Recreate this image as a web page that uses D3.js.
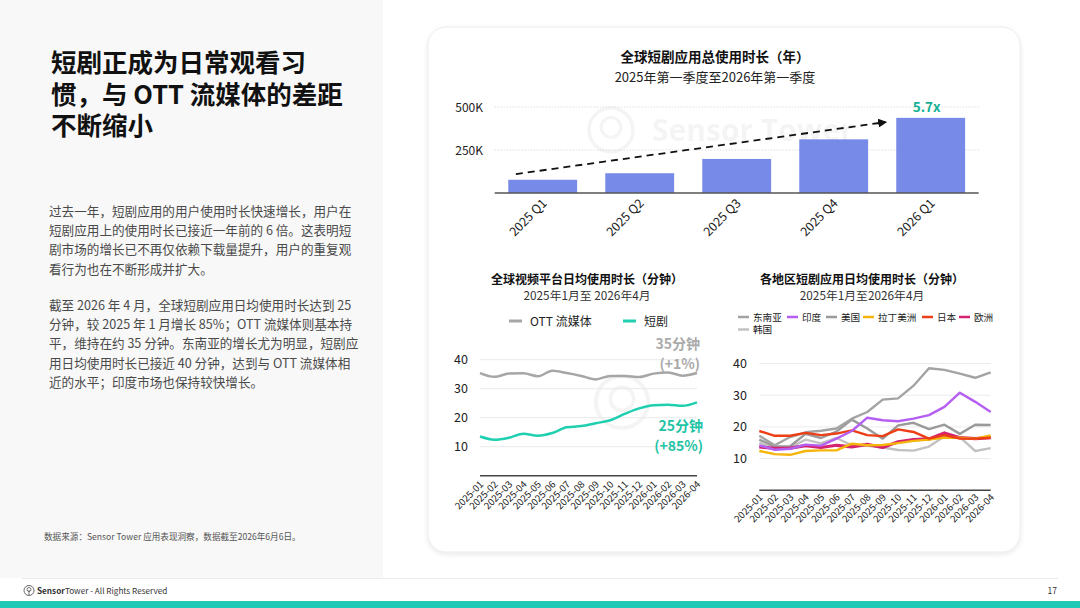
<!DOCTYPE html>
<html>
<head>
<meta charset="utf-8">
<script src="https://cdn.jsdelivr.net/npm/d3@7"></script>
<style>
  body { margin: 0; background: #fff; }
  svg { display: block; font-family: "Noto Sans CJK SC", "Noto Sans", sans-serif; }
</style>
</head>
<body>
<svg id="slide" width="1080" height="608"></svg>
<script>
// ---- data ----
var quarters = ["2025 Q1", "2025 Q2", "2025 Q3", "2025 Q4", "2026 Q1"];
var totalYears = [77000, 115000, 198000, 312000, 437000];
var totalTicks = [250000, 500000];

var months = ["2025-01", "2025-02", "2025-03", "2025-04", "2025-05", "2025-06", "2025-07", "2025-08",
  "2025-09", "2025-10", "2025-11", "2025-12", "2026-01", "2026-02", "2026-03", "2026-04"];
var ottMinutes = [35.4, 34.1, 35.2, 35.3, 34.3, 36.2, 35.4, 34.4, 33.2, 34.4, 34.4, 34.0, 35.2, 35.6, 34.5, 35.4];
var dramaMinutes = [13.5, 12.4, 13.1, 14.5, 13.8, 14.7, 16.7, 17.1, 18.1, 19.1, 21.3, 23.2, 24.3, 24.5, 24.1, 25.3];
var minuteTicks = [10, 20, 30, 40];

var regionNames = ["东南亚", "印度", "美国", "拉丁美洲", "日本", "欧洲", "韩国"];
var regionColors = ["#a3a3a3", "#b55ff2", "#9a9a9a", "#f5b50c", "#ec3f16", "#d6236f", "#c2c2c2"];
var seaMinutes = [17.2, 14.2, 16.8, 18.3, 18.8, 19.5, 22.6, 24.7, 28.6, 29.0, 33.0, 38.5, 38.0, 36.8, 35.5, 37.2];
var indiaMinutes = [14.2, 12.8, 13.1, 14.4, 14.1, 16.3, 18.7, 22.9, 22.1, 21.8, 22.6, 23.7, 26.3, 30.8, 27.9, 24.7];
var usMinutes = [16.0, 13.8, 13.9, 17.8, 16.5, 18.5, 22.3, 19.5, 16.3, 20.5, 21.3, 19.3, 20.7, 17.8, 20.7, 20.6];
var latamMinutes = [12.4, 11.4, 11.2, 12.4, 12.6, 12.6, 14.7, 14.2, 14.3, 14.9, 15.6, 16.0, 16.6, 16.6, 16.3, 17.3];
var japanMinutes = [18.7, 17.2, 17.2, 18.1, 17.4, 17.9, 18.9, 17.4, 17.1, 19.2, 18.4, 16.3, 17.4, 16.3, 16.3, 16.6];
var europeMinutes = [13.7, 13.2, 13.3, 14.1, 13.5, 14.2, 13.7, 14.5, 13.5, 15.3, 16.0, 16.2, 18.1, 16.6, 16.3, 16.6];
var koreaMinutes = [15.0, 13.2, 13.5, 16.0, 14.8, 16.5, 14.2, 14.0, 13.5, 12.7, 12.5, 13.8, 17.0, 16.8, 12.4, 13.3];
var regionSeries = [seaMinutes, indiaMinutes, usMinutes, latamMinutes, japanMinutes, europeMinutes, koreaMinutes];
var drawOrder = [6, 2, 0, 5, 3, 4, 1];

var headline = ["短剧正成为日常观看习", "惯，与 OTT 流媒体的差距", "不断缩小"];
var para1 = ["过去一年，短剧应用的用户使用时长快速增长，用户在",
  "短剧应用上的使用时长已接近一年前的 6 倍。这表明短",
  "剧市场的增长已不再仅依赖下载量提升，用户的重复观",
  "看行为也在不断形成并扩大。"];
var para2 = ["截至 2026 年 4 月，全球短剧应用日均使用时长达到 25",
  "分钟，较 2025 年 1 月增长 85%；OTT 流媒体则基本持",
  "平，维持在约 35 分钟。东南亚的增长尤为明显，短剧应",
  "用日均使用时长已接近 40 分钟，达到与 OTT 流媒体相",
  "近的水平；印度市场也保持较快增长。"];

var svg = d3.select("#slide");
var defs = svg.append("defs");

// ---- page background ----
svg.append("rect").attr("x", 0).attr("y", 0).attr("width", 383).attr("height", 578).attr("fill", "#f8f8f8");
svg.append("line").attr("x1", 22).attr("x2", 1058).attr("y1", 578.5).attr("y2", 578.5)
  .attr("stroke", "#ececec").attr("stroke-width", 1);
svg.append("rect").attr("x", 0).attr("y", 601).attr("width", 1080).attr("height", 7).attr("fill", "#1ccab5");

// left text
var head = svg.append("text").attr("fill", "#111").attr("font-size", 25.5).attr("font-weight", 700);
head.selectAll("tspan").data(headline).enter().append("tspan")
  .attr("x", 51).attr("y", function(d, i) { return 72 + i * 31.5; }).text(function(d) { return d; });

function paragraph(lines, y0) {
  var t = svg.append("text").attr("fill", "#4a4a4a").attr("font-size", 12.6);
  t.selectAll("tspan").data(lines).enter().append("tspan")
    .attr("x", 49).attr("y", function(d, i) { return y0 + i * 19.2; }).text(function(d) { return d; });
}
paragraph(para1, 216);
paragraph(para2, 310);

svg.append("text").attr("x", 44).attr("y", 540).attr("font-size", 8.6).attr("fill", "#555")
  .text("数据来源：Sensor Tower 应用表现洞察，数据截至2026年6月6日。");

// footer logo
svg.append("circle").attr("cx", 29).attr("cy", 590.5).attr("r", 5).attr("fill", "none").attr("stroke", "#555").attr("stroke-width", 0.9);
svg.append("circle").attr("cx", 29).attr("cy", 589.5).attr("r", 2).attr("fill", "none").attr("stroke", "#555").attr("stroke-width", 0.8);
svg.append("line").attr("x1", 29).attr("x2", 29).attr("y1", 590).attr("y2", 595).attr("stroke", "#555").attr("stroke-width", 0.8);
var foot = svg.append("text").attr("x", 37).attr("y", 594).attr("font-size", 8.2).attr("fill", "#333");
foot.append("tspan").attr("font-weight", 700).text("Sensor");
foot.append("tspan").text("Tower - All Rights Reserved");
svg.append("text").attr("x", 1057).attr("y", 594).attr("text-anchor", "end").attr("font-size", 8.5)
  .attr("fill", "#333").text("17");

// ---- card ----
var shadow = defs.append("filter").attr("id", "shadow").attr("x", "-5%").attr("y", "-5%").attr("width", "110%").attr("height", "112%");
shadow.append("feDropShadow").attr("dx", 0).attr("dy", 2).attr("stdDeviation", 2.5).attr("flood-color", "#000").attr("flood-opacity", 0.09);
svg.append("rect").attr("x", 428).attr("y", 27).attr("width", 592).attr("height", 525).attr("rx", 18)
  .attr("fill", "#fff").attr("stroke", "#ececec").attr("filter", "url(#shadow)");

// watermark logos (faint)
function logoMark(cx, cy, r) {
  var g = svg.append("g").attr("opacity", 0.04).attr("fill", "none").attr("stroke", "#000");
  g.append("circle").attr("cx", cx).attr("cy", cy).attr("r", r).attr("stroke-width", r * 0.16);
  g.append("circle").attr("cx", cx).attr("cy", cy - r * 0.12).attr("r", r * 0.45).attr("stroke-width", r * 0.14);
  return g;
}
logoMark(611, 130, 22).append("text").attr("x", 652).attr("y", 141).attr("font-size", 30).attr("font-weight", 700)
  .attr("stroke", "none").attr("fill", "#000").attr("font-family", "Open Sans, Noto Sans, sans-serif").text("Sensor Tower");
logoMark(622, 402, 26);

// ---- top chart: total years ----
var topChart = svg.append("g");
topChart.append("text").attr("x", 715).attr("y", 62).attr("text-anchor", "middle").attr("font-size", 13.5)
  .attr("font-weight", 700).attr("fill", "#111").text("全球短剧应用总使用时长（年）");
topChart.append("text").attr("x", 715).attr("y", 82).attr("text-anchor", "middle").attr("font-size", 13)
  .attr("fill", "#222").text("2025年第一季度至2026年第一季度");

var xq = d3.scaleBand().domain(quarters).range([494.7, 978.7]).paddingInner(0.29).paddingOuter(0.14);
var yq = d3.scaleLinear().domain([0, 500000]).range([193, 107]);

topChart.append("g").selectAll("line").data(totalTicks).enter().append("line")
  .attr("x1", 494.7).attr("x2", 978.7).attr("y1", yq).attr("y2", yq)
  .attr("stroke", "#cfcfcf").attr("stroke-dasharray", "1,2");
topChart.append("g").selectAll("text").data(totalTicks).enter().append("text")
  .attr("x", 483).attr("y", function(d) { return yq(d) + 4.5; }).attr("text-anchor", "end")
  .attr("font-size", 12).attr("fill", "#222").text(function(d) { return d / 1000 + "K"; });

topChart.append("g").selectAll("rect").data(totalYears).enter().append("rect")
  .attr("x", function(d, i) { return xq(quarters[i]); })
  .attr("y", function(d) { return yq(d); })
  .attr("width", xq.bandwidth())
  .attr("height", function(d) { return yq(0) - yq(d); })
  .attr("fill", "#788ae7");

topChart.append("line").attr("x1", 494.7).attr("x2", 978.7).attr("y1", yq(0)).attr("y2", yq(0))
  .attr("stroke", "#555").attr("stroke-width", 1.5);

topChart.append("g").selectAll("text").data(quarters).enter().append("text")
  .attr("transform", function(d) { return "translate(" + (xq(d) + xq.bandwidth() / 2 + 5) + "," + 204 + ") rotate(-45)"; })
  .attr("text-anchor", "end").attr("font-size", 12.5).attr("fill", "#222").text(function(d) { return d; });

defs.append("marker").attr("id", "arrow").attr("viewBox", "0 0 10 10").attr("refX", 8).attr("refY", 5)
  .attr("markerWidth", 5).attr("markerHeight", 5).attr("orient", "auto")
  .append("path").attr("d", "M0,0L10,5L0,10z").attr("fill", "#111");
topChart.append("line")
  .attr("x1", xq(quarters[0]) + xq.bandwidth() * 0.11).attr("y1", yq(110000))
  .attr("x2", xq(quarters[3]) + xq.bandwidth() * 1.25).attr("y2", yq(412000))
  .attr("stroke", "#111").attr("stroke-width", 1.8).attr("stroke-dasharray", "7,5")
  .attr("marker-end", "url(#arrow)");
topChart.append("text").attr("x", xq(quarters[4]) + xq.bandwidth() / 2 - 4).attr("y", 112)
  .attr("text-anchor", "middle").attr("font-size", 13.5).attr("font-weight", 700).attr("fill", "#16b094").text("5.7x");

// ---- shared helpers for the line charts ----
function gridAndAxis(g, y, x0, x1, labelX) {
  g.append("g").selectAll("line").data(minuteTicks).enter().append("line")
    .attr("x1", x0).attr("x2", x1).attr("y1", y).attr("y2", y).attr("stroke", "#ebebeb");
  g.append("g").selectAll("text").data(minuteTicks).enter().append("text")
    .attr("x", labelX).attr("y", function(d) { return y(d) + 4.5; }).attr("text-anchor", "end")
    .attr("font-size", 12.5).attr("fill", "#222").text(function(d) { return d; });
  g.append("line").attr("x1", x0).attr("x2", x1).attr("y1", y(0)).attr("y2", y(0))
    .attr("stroke", "#444").attr("stroke-width", 1.5);
}
function monthLabels(g, x, y0) {
  g.append("g").selectAll("text").data(months).enter().append("text")
    .attr("transform", function(d) { return "translate(" + (x(d) + 4) + "," + y0 + ") rotate(-45)"; })
    .attr("text-anchor", "end").attr("font-size", 9.6).attr("fill", "#222").text(function(d) { return d; });
}
function titles(g, cx, title, sub) {
  g.append("text").attr("x", cx).attr("y", 284).attr("text-anchor", "middle").attr("font-size", 12)
    .attr("font-weight", 700).attr("fill", "#111").text(title);
  g.append("text").attr("x", cx).attr("y", 299.5).attr("text-anchor", "middle").attr("font-size", 11.8)
    .attr("fill", "#333").text(sub);
}

// ---- bottom left: OTT vs short drama ----
var left = svg.append("g");
titles(left, 587, "全球视频平台日均使用时长（分钟）", "2025年1月至 2026年4月");

var legendL = [{ name: "OTT 流媒体", color: "#a6a6a6", x: 509 }, { name: "短剧", color: "#1fcfb0", x: 623 }];
var lg = left.selectAll(".lg").data(legendL).enter().append("g");
lg.append("line").attr("x1", function(d) { return d.x; }).attr("x2", function(d) { return d.x + 13; })
  .attr("y1", 321).attr("y2", 321).attr("stroke", function(d) { return d.color; }).attr("stroke-width", 3);
lg.append("text").attr("x", function(d) { return d.x + 21; }).attr("y", 325.5).attr("font-size", 12)
  .attr("fill", "#222").text(function(d) { return d.name; });

var xl = d3.scalePoint().domain(months).range([480, 697]);
var yl = d3.scaleLinear().domain([0, 40]).range([475.7, 359.7]);
gridAndAxis(left, yl, 480, 697, 468);

var lineL = d3.line().x(function(d, i) { return xl(months[i]); }).y(function(d) { return yl(d); }).curve(d3.curveMonotoneX);
left.append("path").attr("d", lineL(ottMinutes)).attr("fill", "none").attr("stroke", "#a6a6a6").attr("stroke-width", 2.5);
left.append("path").attr("d", lineL(dramaMinutes)).attr("fill", "none").attr("stroke", "#1fcfb0").attr("stroke-width", 2.5);
monthLabels(left, xl, 485);

function note(g, lines, x, y0, color) {
  g.append("g").selectAll("text").data(lines).enter().append("text")
    .attr("x", x).attr("y", function(d, i) { return y0 + i * 20; }).attr("text-anchor", "end")
    .attr("font-size", 14).attr("font-weight", 700).attr("fill", color).text(function(d) { return d; });
}
note(left, ["35分钟", "(+1%)"], 700, 349, "#aaaaaa");
note(left, ["25分钟", "(+85%)"], 703, 431, "#1fc3a5");

// ---- bottom right: by region ----
var right = svg.append("g");
titles(right, 862, "各地区短剧应用日均使用时长（分钟）", "2025年1月至2026年4月");

var legendX = [738, 787, 826, 863, 922, 959, 738];
var legendY = [317, 317, 317, 317, 317, 317, 329.5];
var rg = right.selectAll(".rg").data(regionNames).enter().append("g");
rg.append("line").attr("x1", function(d, i) { return legendX[i]; }).attr("x2", function(d, i) { return legendX[i] + 11; })
  .attr("y1", function(d, i) { return legendY[i]; }).attr("y2", function(d, i) { return legendY[i]; })
  .attr("stroke", function(d, i) { return regionColors[i]; }).attr("stroke-width", 2.5);
rg.append("text").attr("x", function(d, i) { return legendX[i] + 15; }).attr("y", function(d, i) { return legendY[i] + 3.5; })
  .attr("font-size", 9.6).attr("fill", "#222").text(function(d) { return d; });

var xr = d3.scalePoint().domain(months).range([759.3, 990.7]);
var yr = d3.scaleLinear().domain([0, 40]).range([490.3, 363.5]);
gridAndAxis(right, yr, 759.3, 990.7, 747);

var lineR = d3.line().x(function(d, i) { return xr(months[i]); }).y(function(d) { return yr(d); });
right.append("g").selectAll("path").data(drawOrder).enter().append("path")
  .attr("d", function(k) { return lineR(regionSeries[k]); })
  .attr("fill", "none").attr("stroke", function(k) { return regionColors[k]; })
  .attr("stroke-width", function(k) { return k === 5 ? 3.2 : 2.4; })
  .attr("stroke-linejoin", "round");
monthLabels(right, xr, 498);
</script>
</body>
</html>
